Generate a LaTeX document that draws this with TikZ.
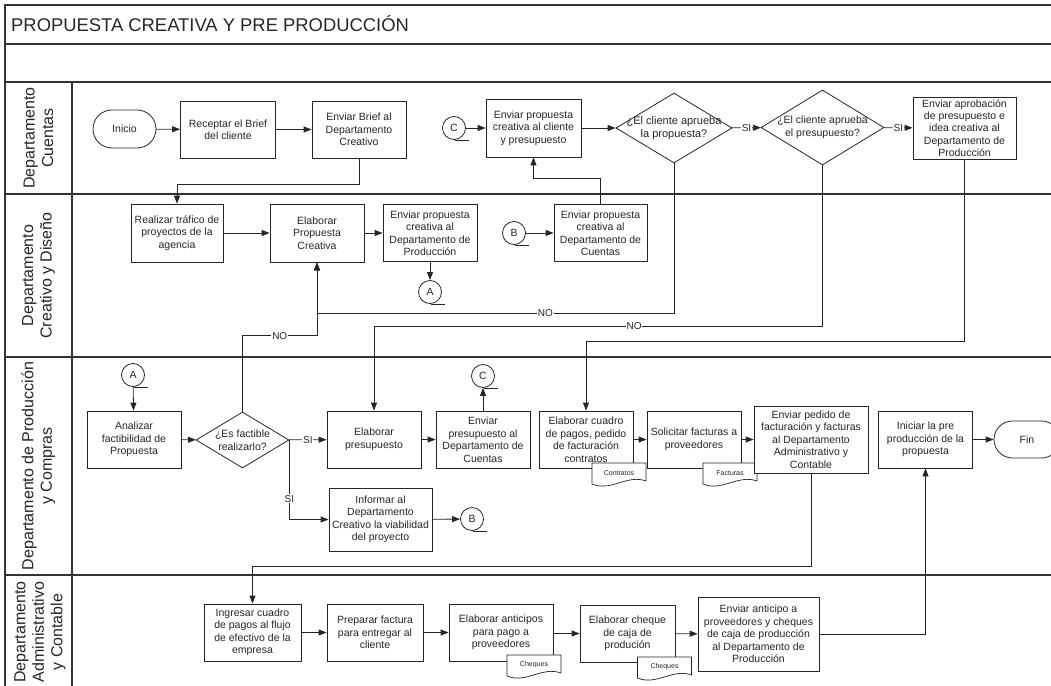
\documentclass[tikz,border=0pt]{standalone}
\usepackage{fontspec}
\setmainfont{Liberation Sans}
\usetikzlibrary{arrows.meta,shapes.geometric,shapes.misc,calc}

% document symbol: wavy-bottom sheet with a small caption
\newcommand\docnode[4]{%
  \path[docline] (#2-27,#3-10) -- (#2+27,#3-10) -- (#2+27,#3+8)
     .. controls (#2+8,#3+1) and (#2-8,#3+19) .. (#2-27,#3+11) -- cycle;
  \node[doctext] (#1) at (#2,#3) {#4};}

\begin{document}
\begin{tikzpicture}[x=1pt,y=-1pt,
  lanerule/.style={draw=black!80, line width=1.3pt},
  box/.style={draw=black!85, line width=0.8pt, fill=white, rectangle, align=center,
    inner sep=1pt, font=\fontsize{10.5}{12.5}\selectfont, text=black!85},
  term/.style={box, rounded rectangle},
  dia/.style={draw=black!85, line width=0.8pt, fill=white, diamond, inner sep=0pt},
  diatext/.style={align=center, inner sep=0pt, font=\fontsize{10.5}{12.5}\selectfont, text=black!85},
  conn/.style={draw=black!85, line width=0.8pt, fill=white, circle, minimum size=23pt,
    inner sep=0pt, font=\fontsize{10.5}{12}\selectfont, text=black!85},
  arr/.style={draw=black!85, line width=0.8pt, -{Triangle[length=8pt,width=6pt]}},
  plain/.style={draw=black!85, line width=0.8pt},
  lab/.style={fill=white, inner sep=0.8pt, font=\fontsize{10}{12}\selectfont, text=black!85},
  lane/.style={rotate=90, align=center, font=\fontsize{16}{18.5}\selectfont, text=black!85},
  doctext/.style={inner sep=0pt, font=\fontsize{7}{8}\selectfont, text=black!85},
  docline/.style={draw=black!85, line width=0.7pt, fill=white},
]
\useasboundingbox (0,0) rectangle (1051,685);

% ---- pool frame and lanes
\draw[lanerule] (1060,5) -- (5,5) -- (5,690);
\draw[lanerule] (5,44) -- (1060,44);
\draw[lanerule] (5,82) -- (1060,82);
\draw[lanerule] (5,194) -- (1060,194);
\draw[lanerule] (5,357) -- (1060,357);
\draw[lanerule] (5,575) -- (1060,575);
\draw[lanerule] (72,82) -- (72,690);

\node[anchor=base west, inner sep=0pt, font=\fontsize{18.4}{20}\selectfont, text=black!85]
  (title) at (11,31.5) {PROPUESTA CREATIVA Y PRE PRODUCCIÓN};

\node[lane] (l1) at (38.5,138) {Departamento\\Cuentas};
\node[lane] (l2) at (38.5,275.5) {Departamento\\Creativo y Diseño};
\node[lane] (l3) at (38.5,466) {Departamento de Producción\\y Compras};
\node[lane] (l4) at (40,632) {Departamento\\Administrativo\\y Contable};

% ---- Departamento Cuentas
\node[term, minimum width=65pt, minimum height=38pt] (ini) at (124.5,129) {Inicio};
\node[box, minimum width=95pt, minimum height=57pt] (rb) at (228,129.5) {Receptar el Brief\\del cliente};
\node[box, minimum width=94pt, minimum height=57pt] (eb) at (359,129.5) {Enviar Brief al\\Departamento\\Creativo};
\node[conn] (cC1) at (454,128) {C};
\node[box, minimum width=95pt, minimum height=58pt] (epc) at (533.5,128) {Enviar propuesta\\creativa al cliente\\y presupuesto};
\node[dia, minimum width=116pt, minimum height=70pt] (d1) at (674,128) {};
\node[diatext, font=\fontsize{11}{13}\selectfont] (d1t) at (674,128) {¿El cliente aprueba\\la propuesta?};
\node[dia, minimum width=123pt, minimum height=75pt] (d2) at (822.5,127.5) {};
\node[diatext] (d2t) at (822.5,127.5) {¿El cliente aprueba\\el presupuesto?};
\node[box, minimum width=103pt, minimum height=62pt, font=\fontsize{10.5}{12.2}\selectfont] (eap) at (964.5,128)
  {Enviar aprobación\\de presupuesto e\\idea creativa al\\Departamento de\\Producción};

% ---- Departamento Creativo y Diseño
\node[box, minimum width=92pt, minimum height=58pt] (rt) at (177,233) {Realizar tráfico de\\proyectos de la\\agencia};
\node[box, minimum width=94pt, minimum height=58pt] (epr) at (317,233) {Elaborar\\Propuesta\\Creativa};
\node[box, minimum width=94pt, minimum height=57pt] (epp) at (430,233) {Enviar propuesta\\creativa al\\Departamento de\\Producción};
\node[conn] (cA1) at (430,292) {A};
\node[conn] (cB1) at (514,233) {B};
\node[box, minimum width=93pt, minimum height=57pt] (epcu) at (600.5,233) {Enviar propuesta\\creativa al\\Departamento de\\Cuentas};

% ---- Departamento de Producción y Compras
\node[conn] (cA2) at (133,375) {A};
\node[box, minimum width=94pt, minimum height=57pt] (an) at (134,439.5) {Analizar\\factibilidad de\\Propuesta};
\node[dia, minimum width=93pt, minimum height=56pt] (d3) at (242.5,440) {};
\node[diatext] (d3t) at (242.5,440) {¿Es factible\\realizarlo?};
\node[box, minimum width=94pt, minimum height=57pt] (epres) at (374,439.5) {Elaborar\\presupuesto};
\node[box, minimum width=103pt, minimum height=63pt] (inf) at (380.5,519.5) {Informar al\\Departamento\\Creativo la viabilidad\\del proyecto};
\node[conn] (cB2) at (472,519) {B};
\node[box, minimum width=94pt, minimum height=57pt] (envp) at (483,439.5) {Enviar\\presupuesto al\\Departamento de\\Cuentas};
\node[conn] (cC2) at (483,376) {C};
\node[box, minimum width=94pt, minimum height=57pt] (ecu) at (586,439.5) {Elaborar cuadro\\de pagos, pedido\\de facturación\\contratos};
\docnode{dc1}{619}{473}{Contratos}
\node[box, minimum width=94pt, minimum height=57pt] (sf) at (694,439.5) {Solicitar facturas a\\proveedores};
\docnode{dc2}{730}{473}{Facturas}
\node[box, minimum width=114pt, minimum height=67pt] (epf) at (811,439.5)
  {Enviar pedido de\\facturación y facturas\\al Departamento\\Administrativo y\\Contable};
\node[box, minimum width=94pt, minimum height=57pt] (ini2) at (925.5,439.5) {Iniciar la pre\\producción de la\\propuesta};
\node[term, minimum width=68pt, minimum height=37pt] (fin) at (1027,439.5) {Fin};

% ---- Departamento Administrativo y Contable
\node[box, minimum width=97pt, minimum height=57pt] (ing) at (252.5,632.5) {Ingresar cuadro\\de pagos al flujo\\de efectivo de la\\empresa};
\node[box, minimum width=96pt, minimum height=57pt] (pf) at (375,632.5) {Preparar factura\\para entregar al\\cliente};
\node[box, minimum width=104pt, minimum height=57pt] (ea) at (501,632.5) {Elaborar anticipos\\para pago a\\proveedores};
\docnode{dc3}{534}{665}{Cheques}
\node[box, minimum width=95pt, minimum height=57pt] (ech) at (627.5,633.5) {Elaborar cheque\\de caja de\\produción};
\docnode{dc4}{664.5}{667}{Cheques}
\node[box, minimum width=121pt, minimum height=74pt] (eant) at (758.5,634)
  {Enviar anticipo a\\proveedores y cheques\\de caja de producción\\al Departamento de\\Producción};

% ---- connector tails
\foreach \c in {cC1,cA1,cB1,cA2,cB2,cC2}
  \draw[plain] ([xshift=1pt]\c.south) -- ++(14,0);

% ---- flow
\draw[arr] (ini) -- (rb);
\draw[arr] (rb) -- (eb);
\draw[arr] (eb.south) -- ++(0,26) -| (rt.north);
\draw[arr] (rt) -- (epr);
\draw[arr] (epr) -- (epp);
\draw[arr] (epp) -- (cA1);
\draw[arr] (cB1) -- (epcu);
\draw[arr] (epcu.north) -- ++(0,-25.5) -| (epc.south);
\draw[arr] (cC1) -- (epc);
\draw[arr] (epc) -- (d1);
\draw[arr] (d1) -- node[lab]{SI} (d2);
\draw[arr] (d2) -- node[lab]{SI} (eap);
\draw[arr] (d1.south) -- ++(0,150) -| node[lab, pos=0.18]{NO} (epr.south);
\draw[arr] (d3.north) -- ++(0,-76) -| node[lab, pos=0.25]{NO} (epr.south);
\draw[arr] (d2.south) -- ++(0,161) -| node[lab, pos=0.21]{NO} (epres.north);
\draw[arr] (eap.south) -- ++(0,182) -| (ecu.north);

\draw[arr] (cA2) -- (an);
\draw[arr] (an) -- (d3);
\draw[arr] (d3) -- node[lab]{SI} (epres);
\draw[arr] (d3.east) |- node[lab, pos=0.37]{SI} (inf.west);
\draw[arr] (inf) -- (cB2);
\draw[arr] (epres) -- (envp);
\draw[arr] (envp) -- (cC2);
\draw[arr] (ecu) -- (sf);
\draw[arr] (sf) -- (epf);
\draw[arr] (epf.south) -- ++(0,93) -| (ing.north);
\draw[arr] (ini2) -- (fin);

\draw[arr] (ing) -- (pf);
\draw[arr] (pf) -- (ea);
\draw[arr] (ea.east |- ech.west) -- (ech.west);
\draw[arr] (ech) -- (eant);
\draw[arr] (eant) -| (ini2.south);
\end{tikzpicture}
\end{document}
